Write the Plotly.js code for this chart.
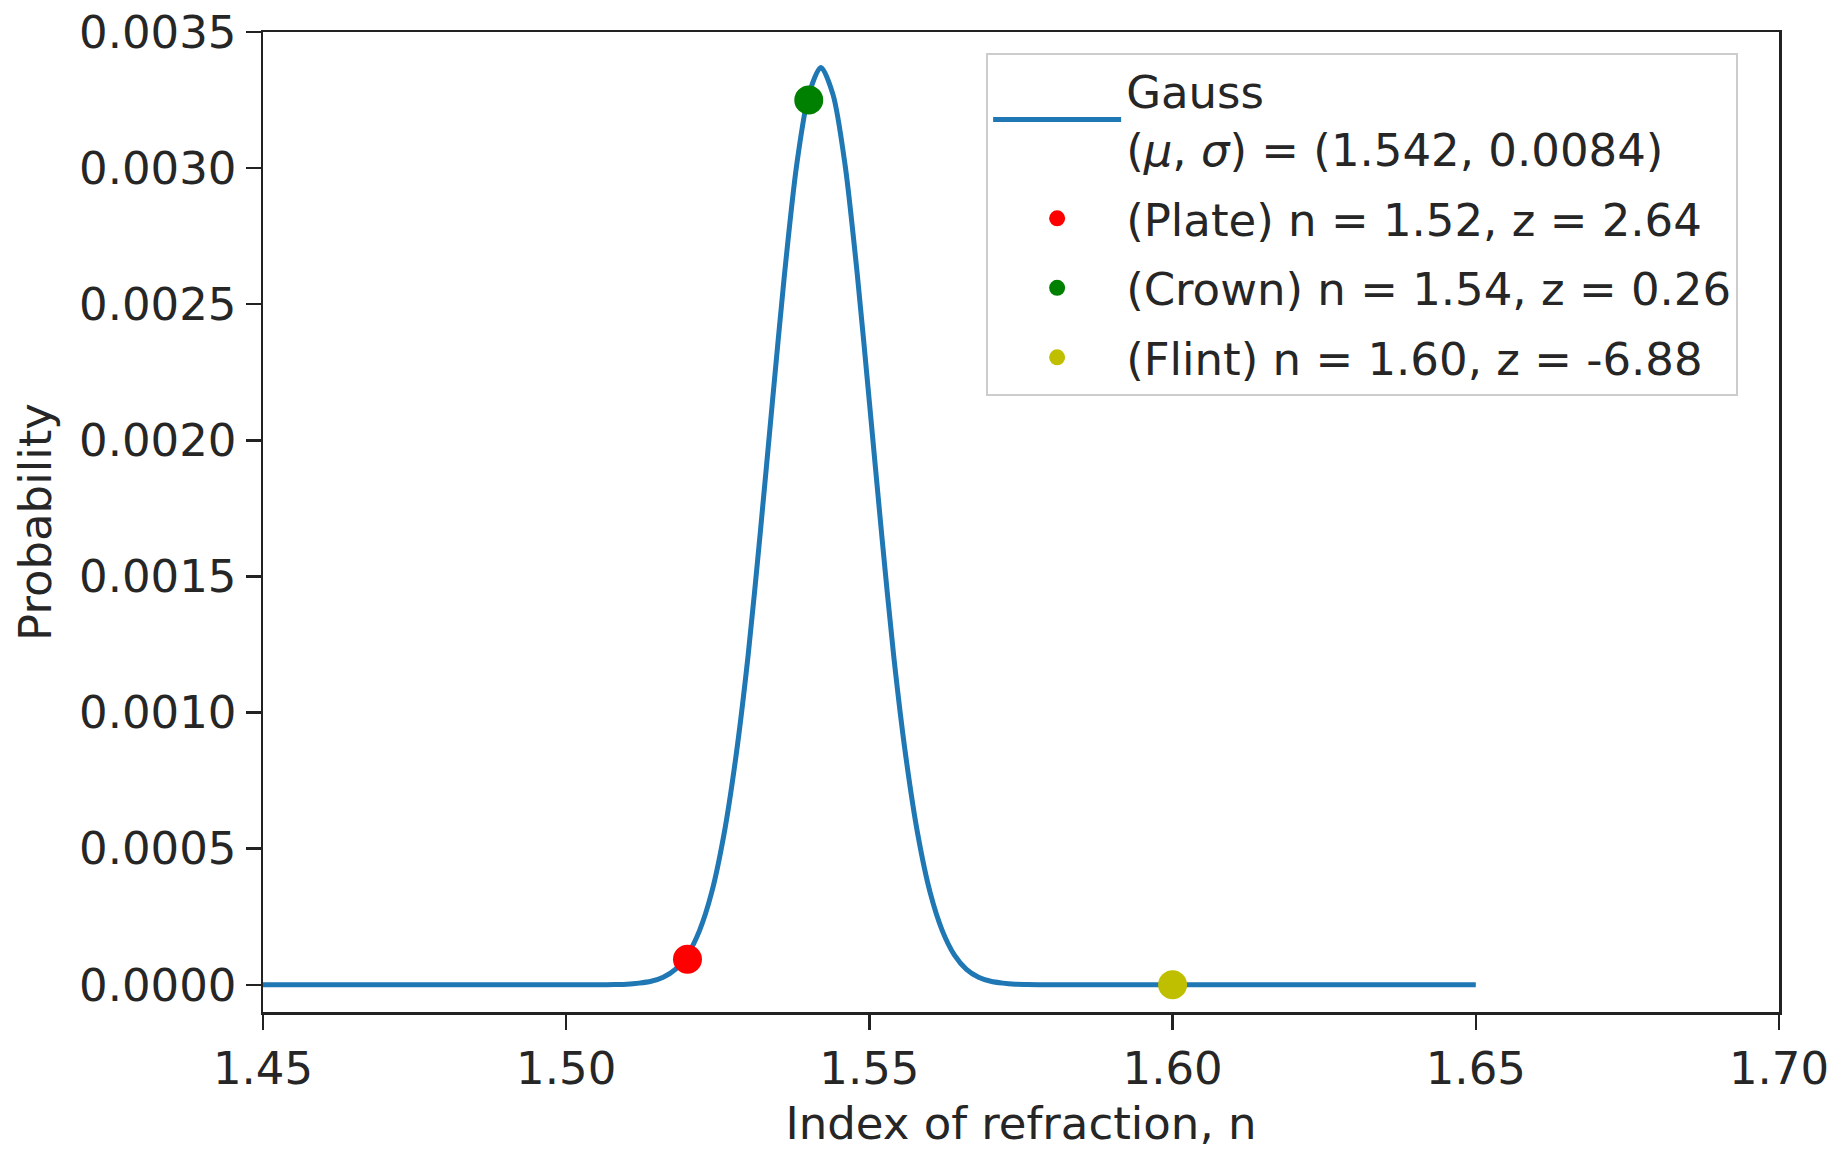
<!DOCTYPE html>
<html>
<head>
<meta charset="utf-8">
<script src="https://cdn.plot.ly/plotly-3.0.1.min.js"></script>
<style>html,body{margin:0;padding:0;background:#fff;}#chart{width:1841px;height:1151px;}</style>
</head>
<body>
<div id="chart"></div>
<script>
// Gaussian curve, values
const curveX = [1.450, 1.500, 1.506, 1.508, 1.510, 1.512, 1.514, 1.516, 1.518, 1.520, 1.522, 1.524, 1.526, 1.528, 1.530,
  1.532, 1.534, 1.536, 1.538, 1.540, 1.542, 1.544, 1.546, 1.548, 1.550, 1.552, 1.554, 1.556, 1.558, 1.560,
  1.562, 1.564, 1.566, 1.568, 1.570, 1.572, 1.574, 1.576, 1.578, 1.600, 1.650];
const curveY = [0.0, 0.0, 0.0000002, 0.0000008, 0.000002, 0.000006, 0.000013, 0.000028, 0.000057, 0.00011, 0.00020, 0.00034, 0.00055, 0.00084, 0.00121,
  0.00166, 0.00214, 0.00261, 0.00301, 0.00327, 0.00337, 0.00327, 0.00301, 0.00261, 0.00214, 0.00166, 0.00121, 0.00084, 0.00055, 0.00034,
  0.00020, 0.00011, 0.000057, 0.000028, 0.000013, 0.000006, 0.000002, 0.0000008, 0.0000002, 0.0, 0.0];

// Glass samples
const glassNames = ["(Plate) n = 1.52, z = 2.64", "(Crown) n = 1.54, z = 0.26", "(Flint) n = 1.60, z = -6.88"];
const glassN = [1.52, 1.54, 1.60];
const glassP = [0.000094, 0.00325, 0.0];
const glassColors = ["#ff0000", "#008000", "#bfbf00"];

const gaussLabel = "Gauss<br>(<i>μ</i>, <i>σ</i>) = (1.542, 0.0084)";

const xTicks = [1.45, 1.50, 1.55, 1.60, 1.65, 1.70];
const yTicks = [0.0000, 0.0005, 0.0010, 0.0015, 0.0020, 0.0025, 0.0030, 0.0035];

const traces = [{
  x: curveX, y: curveY, type: 'scatter', mode: 'lines', name: gaussLabel,
  line: {color: '#1f77b4', width: 5, shape: 'spline', smoothing: 0.8},
  legendgroup: 'g0'
}];
for (let i = 0; i < glassN.length; i++) {
  traces.push({
    x: [glassN[i]], y: [glassP[i]], type: 'scatter', mode: 'markers', name: glassNames[i],
    marker: {color: glassColors[i], size: 29}, legendgroup: 'g' + (i + 1)
  });
}

const font = {family: 'DejaVu Sans, sans-serif', size: 45, color: '#262626'};
const layout = {
  width: 1841, height: 1151,
  margin: {l: 263, r: 62, t: 32, b: 139},
  paper_bgcolor: '#fff', plot_bgcolor: '#fff',
  font: font,
  showlegend: true,
  legend: {
    x: 0.477, y: 0.979, xanchor: 'left', yanchor: 'top',
    bgcolor: 'rgba(255,255,255,0.9)', bordercolor: '#cccccc', borderwidth: 2,
    font: font, tracegroupgap: 8, itemwidth: 128
  },
  xaxis: {
    range: [1.45, 1.70], tickvals: xTicks, tickformat: '.2f',
    showgrid: false, zeroline: false,
    showline: true, mirror: true, linecolor: '#222', linewidth: 2.5,
    ticks: 'outside', ticklen: 15, tickwidth: 2.5, tickcolor: '#222',
    title: {text: 'Index of refraction, n', font: font, standoff: 14},
    automargin: false
  },
  yaxis: {
    range: [-0.0001, 0.0035], tickvals: yTicks, tickformat: '.4f',
    showgrid: false, zeroline: false,
    showline: true, mirror: true, linecolor: '#222', linewidth: 2.5,
    ticks: 'outside', ticklen: 15, tickwidth: 2.5, tickcolor: '#222',
    title: {text: 'Probability', font: font, standoff: 14},
    automargin: false
  }
};
Plotly.newPlot('chart', traces, layout, {displayModeBar: false, staticPlot: true});
</script>
</body>
</html>
